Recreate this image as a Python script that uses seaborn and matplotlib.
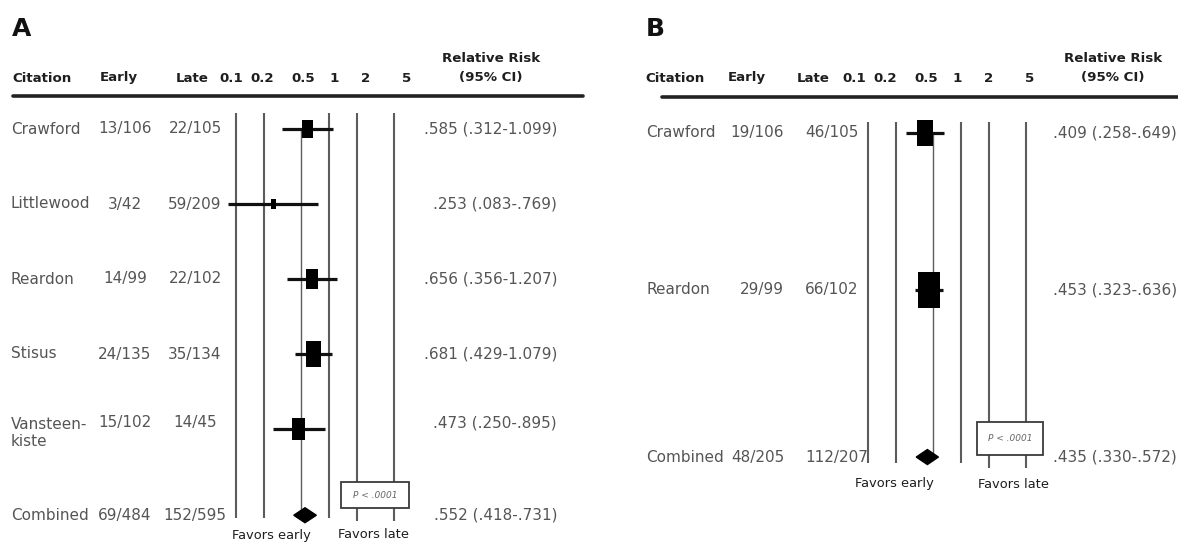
import matplotlib
matplotlib.use("Agg")
import matplotlib.pyplot as plt
from matplotlib.lines import Line2D
from matplotlib.patches import Polygon, Rectangle
from matplotlib.transforms import blended_transform_factory
import numpy as np
import pandas as pd
import seaborn as sns

# ---------------- data ----------------
ref_ticks = [0.1, 0.2, 0.5, 1, 2, 5]
tick_labels = ["0.1", "0.2", "0.5", "1", "2", "5"]

# Panel A: all trials
a_citation = ["Crawford", "Littlewood", "Reardon", "Stisus", "Vansteen-\nkiste"]
a_early = ["13/106", "3/42", "14/99", "24/135", "15/102"]
a_late = ["22/105", "59/209", "22/102", "35/134", "14/45"]
a_rr = [0.585, 0.253, 0.656, 0.681, 0.473]
a_lo = [0.312, 0.083, 0.356, 0.429, 0.250]
a_hi = [1.099, 0.769, 1.207, 1.079, 0.895]
a_weight = [18, 5, 18.5, 35, 23.5]
a_comb_counts = ["69/484", "152/595"]
a_comb_est = [0.552, 0.418, 0.731]  # RR, lower, upper
a_pvalue = "P < .0001"

# Panel B: subset of trials
b_citation = ["Crawford", "Reardon"]
b_early = ["19/106", "29/99"]
b_late = ["46/105", "66/102"]
b_rr = [0.409, 0.453]
b_lo = [0.258, 0.323]
b_hi = [0.649, 0.636]
b_weight = [33.5, 66.5]
b_comb_counts = ["48/205", "112/207"]
b_comb_est = [0.435, 0.330, 0.572]
b_pvalue = "P < .0001"

# ---------------- style ----------------
sns.set_theme(style="white")
plt.rcParams["font.family"] = ["DejaVu Sans"]

W, H = 1178, 548
fig = plt.figure(figsize=(W / 100, H / 100), dpi=100)
fig.patch.set_facecolor("white")

BODY_C = "#555555"
HEAD_C = "#1e1e1e"
LINE_C = "#5c5c5c"
BODY_FS = 11
HEAD_FS = 9.6

RECT = [(-0.3, -0.5), (0.3, -0.5), (0.3, 0.5), (-0.3, 0.5), (-0.3, -0.5)]


def fx(px):
    return px / W


def fy(py):
    return 1 - py / H


def fmt(v):
    s = f"{v:.3f}"
    return s[1:] if s.startswith("0") else s


def rr_label(rr, lo, hi):
    return f"{fmt(rr)} ({fmt(lo)}-{fmt(hi)})"


def draw_panel(lay, letter, citation, early, late, rr, lo, hi, weight,
               comb_counts, comb_est, pvalue):
    x0, x1 = lay["span"]
    one, ppd = lay["one_px"], lay["px_per_decade"]
    r0, rp = lay["row0_px"], lay["row_px"]

    ax = fig.add_axes([fx(x0), 0, fx(x1) - fx(x0), 1])
    ax.set_xscale("log")
    ax.axis("off")

    def ypx(py):
        return (py - r0) / rp

    n = len(citation)
    rows = np.arange(n, dtype=float)
    comb_y = n - 1 + lay["combined_gap"]

    # vertical reference lines at the scale ticks
    top, bot, stub = ypx(lay["lines_top"]), ypx(lay["lines_bottom"]), ypx(lay["stub_bottom"])
    for v in ref_ticks:
        if v == 0.5:
            ax.vlines(v, rows[0], comb_y, color=LINE_C, lw=1.0, zorder=1)
        elif v > 1:
            ax.vlines(v, top, stub, color=LINE_C, lw=1.5, zorder=1)
        else:
            ax.vlines(v, top, bot, color=LINE_C, lw=1.5, zorder=1)

    # confidence intervals and weighted squares
    ax.hlines(rows, lo, hi, color="#111111", lw=2.3, zorder=2)
    df = pd.DataFrame({"rr": rr, "row": rows, "weight": weight})
    sns.scatterplot(data=df, x="rr", y="row", size="weight", sizes=(0, 1030),
                    size_norm=(0, 100), marker=RECT, color="#000000",
                    edgecolor="none", legend=False, ax=ax, zorder=3)

    # pooled estimate diamond
    c_rr, c_lo, c_hi = comb_est
    dh = 7.5 / rp
    ax.add_patch(Polygon([(c_lo, comb_y), (c_rr, comb_y - dh), (c_hi, comb_y),
                          (c_rr, comb_y + dh)], closed=True, color="#000000", zorder=3))

    ax.set_xlim(10 ** ((x0 - one) / ppd), 10 ** ((x1 - one) / ppd))
    ax.set_ylim((H - r0) / rp, (0 - r0) / rp)
    ax.axis("off")

    # p-value box
    bx0, bx1, by0, by1 = lay["box"]
    ax.add_patch(Rectangle((fx(bx0), fy(by1)), fx(bx1) - fx(bx0), fy(by0) - fy(by1),
                           transform=fig.transFigure, facecolor="white",
                           edgecolor="#3a3a3a", lw=1.3, zorder=5, clip_on=False))
    fig.text(fx((bx0 + bx1) / 2), fy((by0 + by1) / 2), pvalue, ha="center", va="center",
             fontsize=6.5, style="italic", color="#666666", zorder=6)

    # row text columns
    tr = blended_transform_factory(fig.transFigure, ax.transData)
    cols = lay["cols"]
    all_rows = list(rows) + [comb_y]
    names = list(citation) + ["Combined"]
    e_txt = list(early) + [comb_counts[0]]
    l_txt = list(late) + [comb_counts[1]]
    rr_txt = [rr_label(a, b, c) for a, b, c in zip(rr, lo, hi)] + [rr_label(*comb_est)]
    for y, nm, e, l, r in zip(all_rows, names, e_txt, l_txt, rr_txt):
        kw = dict(transform=tr, fontsize=BODY_FS, color=BODY_C, va="center")
        wrapped = "\n" in nm
        ty = y - (0.08 if wrapped else 0)
        ny = y + (0.05 if wrapped else 0)
        ax.text(fx(cols["citation"][0]), ny, nm, ha=cols["citation"][1],
                linespacing=1.2, **kw)
        ax.text(fx(cols["early"][0]), ty, e, ha=cols["early"][1], **kw)
        ax.text(fx(cols["late"][0]), ty, l, ha=cols["late"][1], **kw)
        ax.text(fx(cols["rr"][0]), ty, r, ha=cols["rr"][1], **kw)

    # favours labels
    for xx, txt in zip(lay["favors_x"], ["Favors early", "Favors late"]):
        fig.text(fx(xx), fy(lay["favors_y"]), txt, ha="center", va="center",
                 fontsize=9.4, color=HEAD_C)

    # header
    hd = lay["header"]
    fig.text(fx(hd["letter"][0]), fy(hd["letter"][1]), letter, fontsize=18,
             fontweight="bold", color="#111111", ha="left", va="center")
    hy = fy(hd["y"])
    for key, txt in [("citation", "Citation"), ("early", "Early"), ("late", "Late")]:
        fig.text(fx(hd[key]), hy, txt, ha="left", va="center", fontsize=HEAD_FS,
                 fontweight="bold", color=HEAD_C)
    fig.text(fx(hd["rr"]), fy(hd["y"] - 20), "Relative Risk", ha="center", va="center",
             fontsize=HEAD_FS, fontweight="bold", color=HEAD_C)
    fig.text(fx(hd["rr"]), hy, "(95% CI)", ha="center", va="center",
             fontsize=HEAD_FS, fontweight="bold", color=HEAD_C)

    # header scale labels
    hx0, hppd = hd["tick_01_px"], hd["tick_px_per_decade"]
    hax = fig.add_axes([fx(x0), fy(hd["y"] + 10), fx(x1) - fx(x0), 0.01])
    hax.set_xscale("log")
    hax.set_xlim(0.1 * 10 ** ((x0 - hx0) / hppd), 0.1 * 10 ** ((x1 - hx0) / hppd))
    hax.axis("off")
    htr = blended_transform_factory(hax.transData, fig.transFigure)
    for v, lab in zip(ref_ticks, tick_labels):
        hax.text(v, hy, lab, transform=htr, ha="center", va="center",
                 fontsize=HEAD_FS, fontweight="bold", color=HEAD_C)

    # header rule
    rx0, rx1, ry = hd["rule"]
    fig.add_artist(Line2D([fx(rx0), fx(rx1)], [fy(ry), fy(ry)], lw=2.6, color="#222222"))


layout_a = dict(
    span=(0, 590), one_px=329, px_per_decade=93, row0_px=129, row_px=75,
    combined_gap=1.15, lines_top=113, lines_bottom=518, stub_bottom=521,
    box=(341, 409, 482, 508), favors_x=(271, 374), favors_y=535,
    cols=dict(citation=(11, "left"), early=(125, "center"), late=(195, "center"),
              rr=(557, "right")),
    header=dict(letter=(12, 29), y=78, citation=12, early=100, late=176, rr=491,
                tick_01_px=231, tick_px_per_decade=103.6, rule=(13, 583, 96)),
)

layout_b = dict(
    span=(590, 1178), one_px=961, px_per_decade=93, row0_px=133, row_px=157,
    combined_gap=1.064, lines_top=122, lines_bottom=463, stub_bottom=468,
    box=(977, 1043, 422, 455), favors_x=(894, 1013), favors_y=484,
    cols=dict(citation=(646, "left"), early=(784, "right"), late=(805, "left"),
              rr=(1177, "right")),
    header=dict(letter=(646, 29), y=78, citation=645, early=728, late=797, rr=1113,
                tick_01_px=854, tick_px_per_decade=103.6, rule=(662, 1178, 97)),
)

draw_panel(layout_a, "A", a_citation, a_early, a_late, a_rr, a_lo, a_hi, a_weight,
           a_comb_counts, a_comb_est, a_pvalue)
draw_panel(layout_b, "B", b_citation, b_early, b_late, b_rr, b_lo, b_hi, b_weight,
           b_comb_counts, b_comb_est, b_pvalue)

fig.savefig("out.png", dpi=100, facecolor="white")
